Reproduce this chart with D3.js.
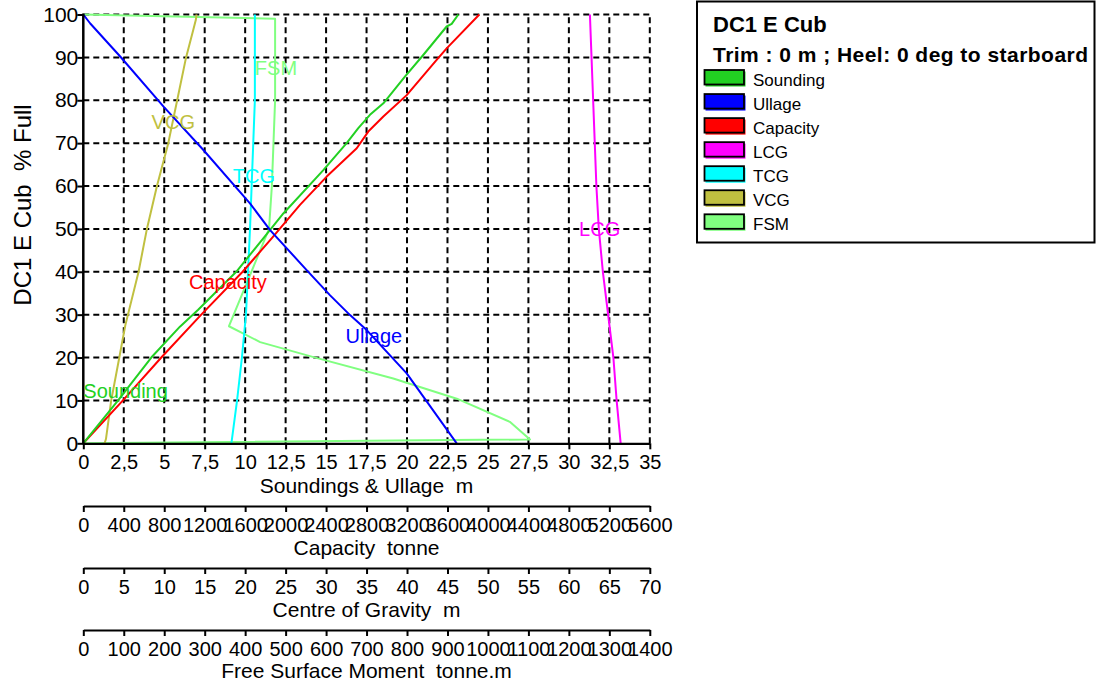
<!DOCTYPE html>
<html>
<head>
<meta charset="utf-8">
<script src="https://cdn.jsdelivr.net/npm/d3@7"></script>
<style>
  html, body { margin: 0; padding: 0; background: #fff; }
  svg { display: block; font-family: Arial, "Liberation Sans", sans-serif; }
  text { white-space: pre; }
</style>
</head>
<body>
<div id="chart"></div>
<script>
// ---------------- DATA ----------------
const chartTitle = "DC1 E Cub";
const chartSubtitle = "Trim : 0 m ; Heel: 0 deg to starboard";
const yTitle = "DC1 E Cub  % Full";
const yTicks = [0, 10, 20, 30, 40, 50, 60, 70, 80, 90, 100];

const axisTitles = ["Soundings & Ullage  m", "Capacity  tonne", "Centre of Gravity  m", "Free Surface Moment  tonne.m"];
const soundTicks = [0, 2.5, 5, 7.5, 10, 12.5, 15, 17.5, 20, 22.5, 25, 27.5, 30, 32.5, 35];
const capTicks = [0, 400, 800, 1200, 1600, 2000, 2400, 2800, 3200, 3600, 4000, 4400, 4800, 5200, 5600];
const cgTicks = [0, 5, 10, 15, 20, 25, 30, 35, 40, 45, 50, 55, 60, 65, 70];
const fsmTicks = [0, 100, 200, 300, 400, 500, 600, 700, 800, 900, 1000, 1100, 1200, 1300, 1400];

const seriesNames = ["Sounding", "Ullage", "Capacity", "LCG", "TCG", "VCG", "FSM"];
const seriesColors = ["#22d022", "#0000ff", "#ff0000", "#ff00ff", "#00ffff", "#c0c040", "#80ff80"];

// % full  vs value
const soundingPct = [0, 10, 20, 27.2, 31.1, 40, 47.8, 53.6, 63.7, 70, 73.5, 76.6, 79.3, 85.5, 90.5, 97.2, 97.8, 100];
const soundingM   = [0, 2.15, 4.2, 5.97, 7.08, 9.45, 11.12, 12.36, 14.83, 16.27, 16.99, 17.71, 18.54, 19.87, 20.99, 22.45, 22.76, 23.17];

const ullagePct = [100, 97.9, 90.2, 78.5, 68.4, 55.9, 49.7, 40.4, 34.5, 29.9, 26.4, 16.3, 0];
const ullageM   = [0, 0.43, 2.28, 4.96, 7.42, 10.31, 11.54, 13.80, 15.25, 16.48, 17.51, 19.98, 23.07];

const capacityPct = [0, 10, 20, 30, 40, 47.8, 55.6, 62.2, 68.8, 72.7, 76.2, 81.2, 89.4, 92.1, 100];
const capacityT   = [0, 392, 771, 1166, 1575, 1862, 2142, 2406, 2703, 2817, 2966, 3197, 3493, 3592, 3915];

const lcgPct = [100, 90, 80, 70, 60, 50, 40, 30, 20, 10, 0];
const lcgM   = [62.6, 62.8, 63.0, 63.2, 63.4, 63.7, 64.2, 64.85, 65.5, 65.9, 66.4];

const tcgPct = [0, 10, 20, 30, 40, 50, 60, 70, 80, 90, 100];
const tcgM   = [18.3, 19.0, 19.6, 20.1, 20.35, 20.6, 20.8, 21.0, 21.2, 21.2, 21.2];

const vcgPct = [0, 1, 10, 20, 27.5, 40, 50, 60, 70, 80, 90, 96.5, 98.7, 100];
const vcgM   = [2.63, 2.8, 3.45, 4.45, 5.19, 6.83, 7.86, 9.1, 10.5, 11.6, 12.7, 13.6, 13.9, 14.0];

const fsmPct = [100, 99, 80, 70, 60, 50, 27.3, 23.6, 20.1, 15.1, 10.4, 5.0, 0.9, 0];
const fsmTm  = [0, 474, 474, 470, 466, 459, 360, 437, 569, 766, 923, 1054, 1104, 0];

// ---------------- LAYOUT ----------------
const W = 1096, H = 686;
const X0 = 83.3, X1 = 649.8, Y0 = 443.3, Y1 = 14.5;

const svg = d3.select("#chart").append("svg").attr("width", W).attr("height", H);

const y = d3.scaleLinear().domain([0, 100]).range([Y0, Y1]);
const xSound = d3.scaleLinear().domain([0, 35]).range([X0, X1]);
const xCap = d3.scaleLinear().domain([0, 5600]).range([X0, X1]);
const xCG = d3.scaleLinear().domain([0, 70]).range([X0, X1]);
const xFSM = d3.scaleLinear().domain([0, 1400]).range([X0, X1]);

// grid
const grid = svg.append("g").attr("stroke", "#000").attr("stroke-width", 2).attr("stroke-dasharray", "6,4");
grid.selectAll("line.v").data(soundTicks.filter(d => d > 0)).enter().append("line")
  .attr("x1", d => xSound(d)).attr("x2", d => xSound(d)).attr("y1", Y0).attr("y2", Y1);
grid.selectAll("line.h").data(yTicks.filter(d => d > 0)).enter().append("line")
  .attr("x1", X0).attr("x2", X1).attr("y1", d => y(d)).attr("y2", d => y(d));

// series
const series = [
  { pct: soundingPct, val: soundingM, sc: xSound },
  { pct: ullagePct, val: ullageM, sc: xSound },
  { pct: capacityPct, val: capacityT, sc: xCap },
  { pct: lcgPct, val: lcgM, sc: xCG },
  { pct: tcgPct, val: tcgM, sc: xCG },
  { pct: vcgPct, val: vcgM, sc: xCG },
  { pct: fsmPct, val: fsmTm, sc: xFSM }
];
const drawOrder = [6, 5, 4, 3, 2, 0, 1];
drawOrder.forEach(i => {
  const s = series[i];
  const pts = s.pct.map((p, k) => [s.sc(s.val[k]), y(p)]);
  svg.append("path").attr("d", d3.line()(pts)).attr("fill", "none")
    .attr("stroke", seriesColors[i]).attr("stroke-width", 2).attr("stroke-linejoin", "round");
});

// solid left axis line
svg.append("line").attr("x1", X0).attr("x2", X0).attr("y1", Y0 + 1).attr("y2", Y1 - 1)
  .attr("stroke", "#000").attr("stroke-width", 2.5);

// y axis
const yAxis = svg.append("g").attr("transform", `translate(${X0},0)`)
  .call(d3.axisLeft(y).tickValues(yTicks).tickSizeInner(6).tickSizeOuter(0).tickPadding(-1));
yAxis.select(".domain").remove();
yAxis.selectAll(".tick line").attr("stroke", "#000").attr("stroke-width", 2);
yAxis.selectAll(".tick text").attr("font-size", 21).attr("fill", "#000")
  .attr("font-family", "Arial, 'Liberation Sans', sans-serif");

// bottom axes
const fmt = d => String(d).replace(".", ",");
const axesDef = [
  { sc: xSound, ticks: soundTicks, yPos: Y0 },
  { sc: xCap, ticks: capTicks, yPos: 506 },
  { sc: xCG, ticks: cgTicks, yPos: 568 },
  { sc: xFSM, ticks: fsmTicks, yPos: 630 }
];
const titleY = [493, 555, 617, 678];
axesDef.forEach((a, i) => {
  const g = svg.append("g").attr("transform", `translate(0,${a.yPos})`)
    .call(d3.axisBottom(a.sc).tickValues(a.ticks).tickFormat(fmt).tickSizeInner(6).tickSizeOuter(0).tickPadding(6));
  g.select(".domain").attr("stroke", "#000").attr("stroke-width", 2.2);
  g.selectAll(".tick line").attr("stroke", "#000").attr("stroke-width", 2);
  g.selectAll(".tick text").attr("font-size", 20).attr("fill", "#000")
    .attr("font-family", "Arial, 'Liberation Sans', sans-serif");
  svg.append("text").attr("x", (X0 + X1) / 2).attr("y", titleY[i]).attr("text-anchor", "middle")
    .attr("font-size", 21).attr("fill", "#000").text(axisTitles[i]);
});

// y title
svg.append("text").attr("transform", `translate(31,205) rotate(-90)`).attr("text-anchor", "middle")
  .attr("font-size", 24).attr("fill", "#000").text(yTitle);

// curve labels (placed in data space of the first axis)
const curveLabels = [
  { i: 0, x: 0, p: 10.6 },
  { i: 2, x: 6.53, p: 36.0 },
  { i: 1, x: 16.2, p: 23.4 },
  { i: 3, x: 30.63, p: 48.3 },
  { i: 4, x: 9.24, p: 60.8 },
  { i: 5, x: 4.22, p: 73.3 },
  { i: 6, x: 10.6, p: 85.9 }
];
curveLabels.forEach(l => {
  svg.append("text").attr("x", xSound(l.x)).attr("y", y(l.p)).attr("font-size", 20)
    .attr("fill", seriesColors[l.i]).text(seriesNames[l.i]);
});

// legend
const lg = svg.append("g");
lg.append("rect").attr("x", 697).attr("y", 1.5).attr("width", 397.5).attr("height", 241)
  .attr("fill", "#fff").attr("stroke", "#000").attr("stroke-width", 2);
lg.append("text").attr("x", 713).attr("y", 32).attr("font-size", 22).attr("font-weight", "bold")
  .attr("fill", "#000").text(chartTitle);
lg.append("text").attr("x", 713).attr("y", 62).attr("font-size", 21).attr("font-weight", "bold")
  .attr("fill", "#000").attr("textLength", 375).attr("lengthAdjust", "spacing").text(chartSubtitle);
seriesNames.forEach((n, i) => {
  const top = 70 + 24.05 * i;
  lg.append("rect").attr("x", 705.5).attr("y", top + 1.5).attr("width", 40).attr("height", 15)
    .attr("fill", seriesColors[i]);
  lg.append("rect").attr("x", 704.5).attr("y", top).attr("width", 39.5).attr("height", 14.5)
    .attr("fill", seriesColors[i]).attr("stroke", "#000").attr("stroke-width", 1.8);
  lg.append("text").attr("x", 753).attr("y", top + 16).attr("font-size", 17).attr("fill", "#000").text(n);
});
</script>
</body>
</html>
